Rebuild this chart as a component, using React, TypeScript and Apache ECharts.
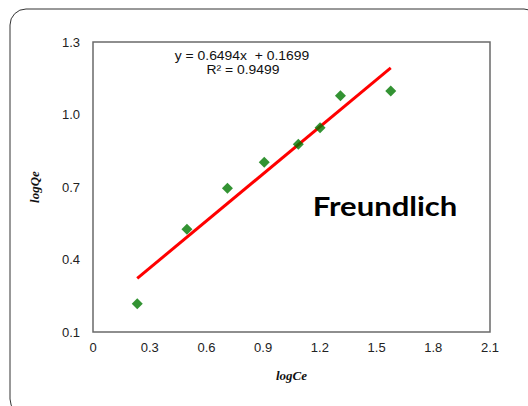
import React, { useEffect, useRef } from "react";
import * as echarts from "echarts";

const logCe = [0.234, 0.497, 0.711, 0.906, 1.086, 1.201, 1.309, 1.575];
const logQe = [0.217, 0.525, 0.695, 0.802, 0.877, 0.945, 1.078, 1.097];
const slope = 0.6494;
const intercept = 0.1699;
const rSquared = 0.9499;
const xTicks = { min: 0, max: 2.1, interval: 0.3 };
const yTicks = { min: 0.1, max: 1.3, interval: 0.3 };
const xName = "logCe";
const yName = "logQe";
const modelLabel = "Freundlich";

export default function App() {
  const ref = useRef<HTMLDivElement>(null);
  useEffect(() => {
    if (!ref.current) return;
    const chart = echarts.init(ref.current, null, { renderer: "svg" });
    const xMin = Math.min(...logCe);
    const xMax = Math.max(...logCe);
    const trend = [
      [xMin, slope * xMin + intercept],
      [xMax, slope * xMax + intercept],
    ];
    const axisFont = { fontFamily: "Liberation Sans, Arial, sans-serif", fontSize: 13, color: "#222" };
    const nameFont = {
      fontFamily: "Liberation Serif, Times New Roman, serif",
      fontSize: 13,
      fontWeight: "bold" as const,
      fontStyle: "italic" as const,
      color: "#111",
    };
    chart.setOption({
      animation: false,
      backgroundColor: "#fff",
      grid: {
        left: 93,
        right: 38,
        top: 42,
        bottom: 74,
        show: true,
        borderColor: "#6a6a6a",
        borderWidth: 1.5,
        backgroundColor: "transparent",
      },
      xAxis: {
        type: "value",
        min: xTicks.min,
        max: xTicks.max,
        interval: xTicks.interval,
        splitLine: { show: false },
        axisTick: { show: false },
        axisLine: { show: false },
        axisLabel: { ...axisFont, margin: 9, formatter: (v: number) => (v === 0 ? "0" : v.toFixed(1)) },
        name: xName,
        nameLocation: "middle",
        nameGap: 37,
        nameTextStyle: nameFont,
      },
      yAxis: {
        type: "value",
        min: yTicks.min,
        max: yTicks.max,
        interval: yTicks.interval,
        splitLine: { show: false },
        axisTick: { show: false },
        axisLine: { show: false },
        axisLabel: { ...axisFont, margin: 13, formatter: (v: number) => v.toFixed(1) },
        name: yName,
        nameLocation: "middle",
        nameGap: 52,
        nameTextStyle: nameFont,
      },
      series: [
        {
          type: "line",
          data: trend,
          symbol: "none",
          lineStyle: { color: "#ff0000", width: 3 },
          z: 2,
        },
        {
          type: "scatter",
          data: logCe.map((x, i) => [x, logQe[i]]),
          symbol: "diamond",
          symbolSize: [11, 11],
          itemStyle: { color: "#007800" },
          z: 3,
        },
      ],
      graphic: [
        {
          type: "rect",
          shape: { x: 10, y: 9, width: 530, height: 406, r: 16 },
          style: { fill: "none", stroke: "#333", lineWidth: 1 },
          z: 0,
        },
        {
          type: "text",
          x: 242,
          y: 56,
          scaleX: 1.07,
          style: {
            text: `y = ${slope.toFixed(4)}x  + ${intercept.toFixed(4)}`,
            fontFamily: "Liberation Sans, Arial, sans-serif",
            fontSize: 13,
            fill: "#111",
            align: "center",
            verticalAlign: "middle",
          },
        },
        {
          type: "text",
          x: 243,
          y: 70,
          scaleX: 1.07,
          style: {
            text: `R² = ${rSquared.toFixed(4)}`,
            fontFamily: "Liberation Sans, Arial, sans-serif",
            fontSize: 13,
            fill: "#111",
            align: "center",
            verticalAlign: "middle",
          },
        },
        {
          type: "text",
          x: 385,
          y: 205,
          scaleX: 1.15,
          style: {
            text: modelLabel,
            fontFamily: "Lato, Open Sans, sans-serif",
            fontSize: 27,
            fontWeight: "bold",
            fill: "#000",
            align: "center",
            verticalAlign: "middle",
          },
        },
      ],
    });
    return () => chart.dispose();
  }, []);
  return <div ref={ref} style={{ width: 528, height: 406, position: "absolute", left: 0, top: 0 }} />;
}
